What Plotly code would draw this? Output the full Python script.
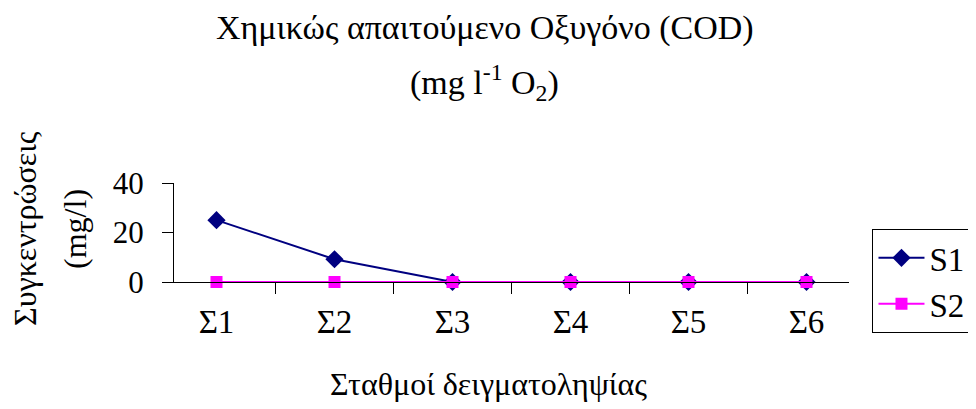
import plotly.graph_objects as go

categories = ["Σ1", "Σ2", "Σ3", "Σ4", "Σ5", "Σ6"]
s1_values = [25, 9.2, 0, 0, 0, 0]
s2_values = [0, 0, 0, 0, 0, 0]
series_names = ["S1", "S2"]
y_ticks = [0, 20, 40]

W, H = 976, 409
L, R, T, B = 166, 841.5, 175, 274.3
FONT = "Liberation Serif"

fig = go.Figure()
fig.add_trace(go.Scatter(
    x=categories, y=s1_values, name=series_names[0], mode="lines+markers",
    line=dict(color="#000080", width=2),
    marker=dict(symbol="diamond", size=14, color="#000080"),
    cliponaxis=False,
))
fig.add_trace(go.Scatter(
    x=categories, y=s2_values, name=series_names[1], mode="lines+markers",
    line=dict(color="#FF00FF", width=2),
    marker=dict(symbol="square", size=12, color="#FF00FF"),
    cliponaxis=False,
))

fig.update_layout(
    width=W, height=H,
    margin=dict(l=L, r=W - R, t=T, b=H - B, pad=0, autoexpand=False),
    paper_bgcolor="white", plot_bgcolor="white",
    font=dict(family=FONT, size=32, color="black"),
    showlegend=True,
    legend=dict(
        x=(865 - L) / (R - L), xanchor="left",
        y=(B - 221) / (B - T), yanchor="top",
        bordercolor="black", borderwidth=1,
        font=dict(family=FONT, size=33), bgcolor="white",
        tracegroupgap=0, maxheight=300, itemwidth=46,
    ),
    xaxis=dict(
        type="category", showline=True, linecolor="black", linewidth=1,
        ticks="outside", ticklen=11, tickcolor="black", tickson="boundaries",
        showgrid=False, zeroline=False, tickfont=dict(family=FONT, size=33),
        ticklabelstandoff=10,
    ),
    yaxis=dict(
        range=[0, 40], tickvals=y_ticks, showline=True, linecolor="black",
        linewidth=1, ticks="outside", ticklen=11, tickcolor="black",
        showgrid=False, zeroline=False, tickfont=dict(family=FONT, size=31),
        ticklabelstandoff=12,
    ),
)

annotations = [
    dict(text="Χημικώς απαιτούμενο Οξυγόνο (COD)", x=477, y=20, size=34),
    dict(text="(mg l<sup>-1</sup> O<sub>2</sub>)", x=477, y=74, size=34),
    dict(text="Σταθμοί δειγματοληψίας", x=481, y=377, size=32),
]
for a in annotations:
    fig.add_annotation(
        text=a["text"], xref="paper", yref="paper",
        x=(a["x"] - L) / (R - L), y=(B - a["y"]) / (B - T),
        xanchor="center", yanchor="middle", showarrow=False,
        font=dict(size=a["size"], family=FONT),
    )
for txt, xc in [("Συγκεντρώσεις", 17), ("(mg/l)", 67)]:
    fig.add_annotation(
        text=txt, xref="paper", yref="paper",
        x=(xc - L) / (R - L), y=(B - 221) / (B - T),
        xanchor="center", yanchor="middle", showarrow=False, textangle=-90,
        font=dict(size=32, family=FONT),
    )

fig.write_html("out.html")
